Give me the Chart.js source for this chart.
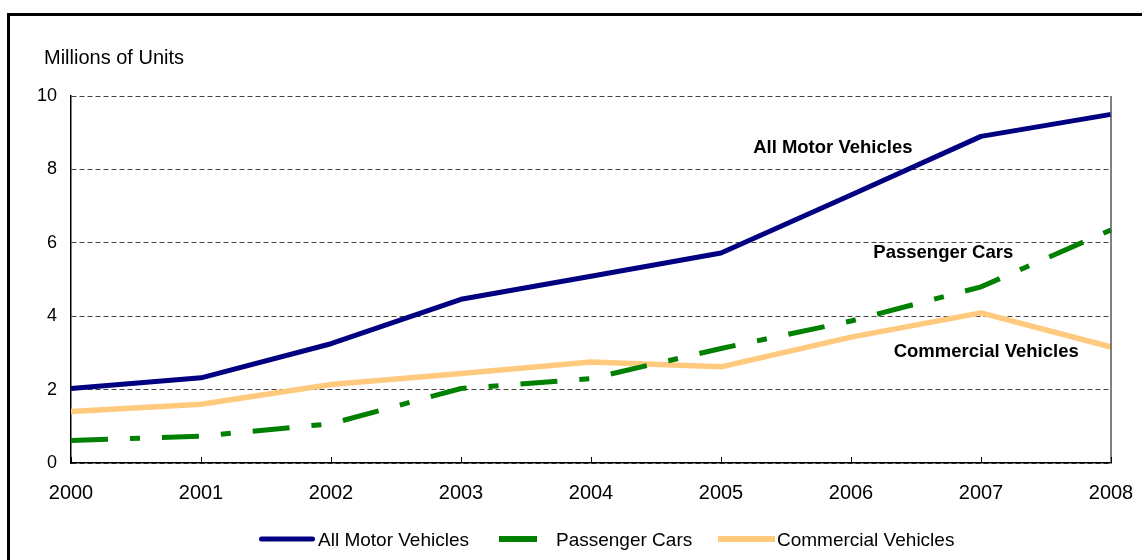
<!DOCTYPE html>
<html>
<head>
<meta charset="utf-8">
<script src="https://cdn.jsdelivr.net/npm/chart.js@4.4.1/dist/chart.umd.min.js"></script>
<style>
  html, body { margin: 0; padding: 0; background: #fff; overflow: hidden; }
  #c { display: block; }
</style>
</head>
<body>
<canvas id="c" width="1142" height="560"></canvas>
<script>
const years = ['2000', '2001', '2002', '2003', '2004', '2005', '2006', '2007', '2008'];
const allMotorVehicles = [2.03, 2.32, 3.25, 4.46, 5.09, 5.72, 7.30, 8.90, 9.50];
const passengerCars = [0.61, 0.73, 1.07, 2.03, 2.30, 3.12, 3.87, 4.80, 6.35];
const commercialVehicles = [1.40, 1.60, 2.14, 2.44, 2.75, 2.62, 3.43, 4.09, 3.16];
const seriesNames = ['All Motor Vehicles', 'Passenger Cars', 'Commercial Vehicles'];
const yTicks = [0, 2, 4, 6, 8, 10];
const yAxisTitle = 'Millions of Units';

const FONT = '"Liberation Sans", Arial, sans-serif';

const decorPlugin = {
  id: 'decor',
  beforeDraw(chart) {
    const ctx = chart.ctx;
    ctx.save();
    ctx.fillStyle = '#fff';
    ctx.fillRect(0, 0, chart.width, chart.height);
    ctx.restore();
  },
  afterDatasetsDraw(chart, args, opts) {
    const ctx = chart.ctx;
    const a = chart.chartArea;
    const xs = chart.scales.x, ys = chart.scales.y;
    ctx.save();
    // outer frame
    ctx.strokeStyle = '#000';
    ctx.lineWidth = 3;
    ctx.strokeRect(8.5, 14.5, chart.width + 100, chart.height + 100);
    // right plot edge
    ctx.strokeStyle = '#555';
    ctx.lineWidth = 1.5;
    ctx.beginPath();
    ctx.moveTo(a.right, a.top);
    ctx.lineTo(a.right, a.bottom);
    ctx.stroke();
    // inside tick marks on x axis
    ctx.strokeStyle = '#000';
    ctx.lineWidth = 1;
    xs.ticks.forEach((t, i) => {
      const px = Math.round(xs.getPixelForTick(i)) + 0.5;
      ctx.beginPath();
      ctx.moveTo(px, a.bottom);
      ctx.lineTo(px, a.bottom - 6);
      ctx.stroke();
    });
    // axis title
    ctx.fillStyle = '#000';
    ctx.font = '20px ' + FONT;
    ctx.textAlign = 'left';
    ctx.textBaseline = 'middle';
    ctx.fillText(yAxisTitle, 44, 58);
    // series annotations
    ctx.font = 'bold 18.5px ' + FONT;
    ctx.textAlign = 'center';
    opts.labels.forEach(l => {
      ctx.fillText(l.text, xs.getPixelForValue(l.x), ys.getPixelForValue(l.y));
    });
    // legend
    ctx.font = '19px ' + FONT;
    ctx.textAlign = 'left';
    chart.data.datasets.forEach((d, i) => {
      const it = opts.legend[i];
      ctx.fillStyle = d.borderColor;
      ctx.strokeStyle = d.borderColor;
      if (it.round) {
        ctx.lineWidth = it.h;
        ctx.lineCap = 'round';
        ctx.beginPath();
        ctx.moveTo(it.x0 + it.h / 2, it.y);
        ctx.lineTo(it.x1 - it.h / 2, it.y);
        ctx.stroke();
      } else {
        ctx.fillRect(it.x0, it.y - it.h / 2, it.x1 - it.x0, it.h);
      }
      ctx.fillStyle = '#000';
      ctx.fillText(d.label, it.tx, it.y + 2);
    });
    ctx.restore();
  }
};

new Chart(document.getElementById('c'), {
  type: 'line',
  data: {
    labels: years,
    datasets: [
      {
        label: seriesNames[0],
        data: allMotorVehicles,
        borderColor: '#000080',
        backgroundColor: '#000080',
        borderWidth: 5,
        pointRadius: 0,
        tension: 0,
        borderJoinStyle: 'round'
      },
      {
        label: seriesNames[1],
        data: passengerCars,
        borderColor: '#008000',
        backgroundColor: '#008000',
        borderWidth: 5,
        borderDash: [37, 22, 10, 22],
        pointRadius: 0,
        tension: 0
      },
      {
        label: seriesNames[2],
        data: commercialVehicles,
        borderColor: '#FFC97E',
        backgroundColor: '#FFC97E',
        borderWidth: 5.5,
        pointRadius: 0,
        tension: 0,
        borderJoinStyle: 'round'
      }
    ]
  },
  options: {
    responsive: false,
    animation: false,
    layout: { padding: { left: 0, right: 31, top: 96, bottom: 47 } },
    plugins: {
      legend: { display: false },
      tooltip: { enabled: false },
      title: { display: false },
      decor: {
        labels: [
          { text: 'All Motor Vehicles', x: 5.86, y: 8.58 },
          { text: 'Passenger Cars', x: 6.71, y: 5.72 },
          { text: 'Commercial Vehicles', x: 7.04, y: 3.02 }
        ],
        legend: [
          { x0: 259, x1: 315, y: 539, h: 5, round: true, tx: 318 },
          { x0: 499, x1: 537, y: 539, h: 6, round: false, tx: 556 },
          { x0: 718, x1: 775, y: 539, h: 6, round: false, tx: 777 }
        ]
      }
    },
    scales: {
      x: {
        offset: false,
        grid: { display: false, drawTicks: false },
        border: { display: true, color: '#000', width: 1.5 },
        afterFit(scale) {
          scale.height = 50;
          scale.paddingLeft = 0;
          scale.paddingRight = 0;
        },
        ticks: {
          font: { family: FONT, size: 20 },
          color: '#000',
          padding: 18,
          maxRotation: 0,
          autoSkip: false
        }
      },
      y: {
        min: 0,
        max: 10,
        afterBuildTicks(scale) { scale.ticks = yTicks.map(v => ({ value: v })); },
        afterFit(scale) { scale.width = 71; },
        grid: { color: '#444', lineWidth: 1, drawTicks: false },
        border: { display: true, color: '#000', width: 1.5, dash: [5, 3] },
        ticks: {
          font: { family: FONT, size: 18 },
          color: '#000',
          padding: 14
        }
      }
    }
  },
  plugins: [decorPlugin]
});
</script>
</body>
</html>
